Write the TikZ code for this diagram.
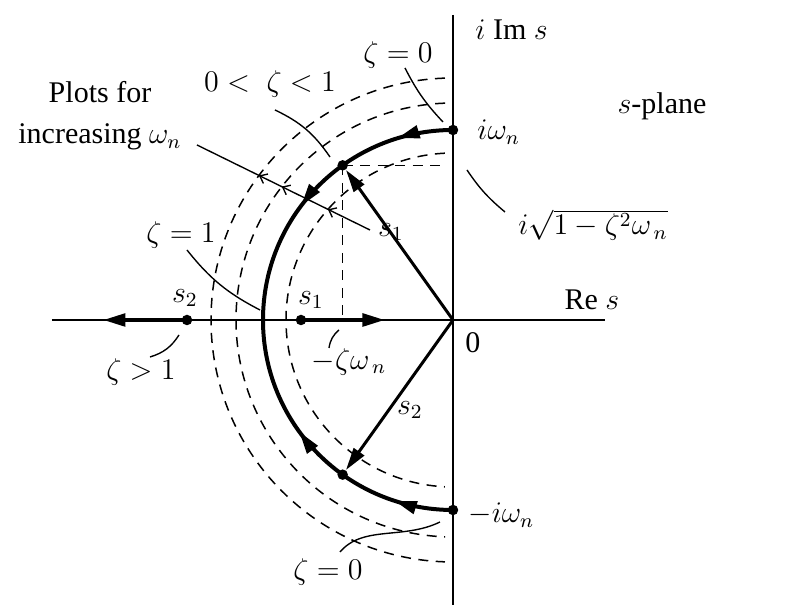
\documentclass[tikz,border=0pt]{standalone}
\usepackage{fontspec}
\setmainfont{Liberation Serif}
\usetikzlibrary{arrows.meta,decorations.markings}
\begin{document}
\begin{tikzpicture}[x=0.4pt,y=0.4pt,
  every node/.style={font=\fontsize{12}{16.5}\selectfont, inner sep=0pt},
  axisline/.style={line width=0.8pt},
  dsh/.style={line width=0.6pt, dash pattern=on 4pt off 3pt},
  lead/.style={line width=0.55pt},
  thk/.style={line width=1.6pt},
  tri/.tip={Triangle[length=9pt,width=5pt]},
  vec/.style={line width=1.2pt, -tri},
  dot/.style={circle, fill, inner sep=0pt, minimum size=4.2pt},
  arcarrows/.style={postaction={decorate}, decoration={markings,
     mark=at position #1 with {\arrow{tri}},
     mark=at position #1+0.4 with {\arrow{tri}}}},
  smallarr/.style={postaction={decorate}, decoration={markings,
     mark=at position 0.358 with {\arrowreversed{Straight Barb[length=2.6pt,width=4.2pt]}},
     mark=at position 0.49 with {\arrowreversed{Straight Barb[length=2.6pt,width=4.2pt]}},
     mark=at position 0.757 with {\arrowreversed{Straight Barb[length=2.6pt,width=4.2pt]}}}}
]
\useasboundingbox (-453,-291) rectangle (355,320);

% named coordinates
\coordinate (O) at (0,0);
\coordinate (vtop) at (0,305);
\coordinate (vbot) at (0,-285);
\coordinate (hleft) at (-401,0);
\coordinate (hright) at (152,0);
\coordinate (r1) at (-68,0);
\coordinate (l1) at (-350,0);
\coordinate (hx) at (-8,0);
\coordinate (pa) at (-256,175);
\coordinate (pb) at (-83,90);

% dashed circles
\foreach \r/\a in {167/92.8,217/92.1,242/91.9}{
  \draw[dsh] (\a:\r) arc[start angle=\a, end angle=360-\a, radius=\r];
}

% axes
\draw[axisline] (vtop) -- (vbot);
\draw[axisline] (hleft) -- (hright);

% points
\node[dot] (iw) at (0,190) {};
\node[dot] (miw) at (0,-190) {};
\node[dot] (s1) at (125.5:190) {};
\node[dot] (s2) at (234.5:190) {};
\node[dot] (s1a) at (-152,0) {};
\node[dot] (s2a) at (-266,0) {};

% dashed projections of s1
\draw[dsh] (s1.center) -- (s1.center -| hx);
\draw[dsh] (s1.center) -- (s1.center |- O);

% thick root loci
\draw[thk, arcarrows=0.19] (iw.center) arc[start angle=90, end angle=180, radius=190];
\draw[thk, arcarrows=0.2] (miw.center) arc[start angle=270, end angle=180, radius=190];
\draw[thk, -tri] (s1a.center) -- (r1);
\draw[thk, -tri] (s2a.center) -- (l1);

% vectors
\draw[vec] (O) -- (s1);
\draw[vec] (O) -- (s2);

% plots line
\draw[lead, smallarr] (pa) -- (pb);

% leaders
\coordinate (ta) at (-48,252); \coordinate (tb) at (-10,198);
\draw[lead] (ta) to[bend right=8] (tb);
\coordinate (ua) at (-178,210); \coordinate (ub) at (-123,163);
\draw[lead] (ua) to[bend left=15] (ub);
\coordinate (oa) at (-266,70); \coordinate (ob) at (-193,10);
\draw[lead] (oa) to[bend right=12] (ob);
\coordinate (ga) at (-303,-37); \coordinate (gb) at (-274,-15);
\draw[lead] (ga) to[bend right=20] (gb);
\coordinate (qa) at (14,150); \coordinate (qb) at (52,108);
\draw[lead] (qa) to[bend right=8] (qb);
\coordinate (za) at (-114,-10); \coordinate (zb) at (-124,-28);
\draw[lead] (za) to[bend right=20] (zb);
\coordinate (ba) at (-113,-232); \coordinate (bb) at (-13,-202);
\draw[lead] (ba) .. controls (-90,-205) and (-50,-220) .. (bb);

% labels
\node[anchor=west] (imlbl) at (22,290) {$i$ Im $s$};
\node (z0top) at (-55,265) {$\zeta=0$};
\node (zmid) at (-183,236) {$0<\;\zeta<1$};
\node[align=center] (plots) at (-353,204) {Plots for\\increasing $\omega_n$};
\node (z1) at (-272,85) {$\zeta=1$};
\node (s2alb) at (-268,22) {$s_2$};
\node (s1alb) at (-142,20) {$s_1$};
\node (zg1) at (-312,-52) {$\zeta>1$};
\node (zwn) at (-104,-42) {$-\zeta\omega_{\,n}$};
\node (zero) at (20,-23) {0};
\node (res) at (139,20) {Re $s$};
\node (splane) at (209,214) {$s$-plane};
\node[anchor=west] (iwl) at (24,188) {$i\omega_n$};
\node[anchor=west] (miwl) at (15,-195) {$-i\omega_n$};
\node[anchor=west] (sqrtl) at (65,95) {$i\sqrt{1-\zeta^2\omega_{\,n}}$};
\node (s1v) at (-62,88) {$s_1$};
\node (s2v) at (-43,-90) {$s_2$};
\node (z0bot) at (-125,-252) {$\zeta=0$};
\end{tikzpicture}
\end{document}
